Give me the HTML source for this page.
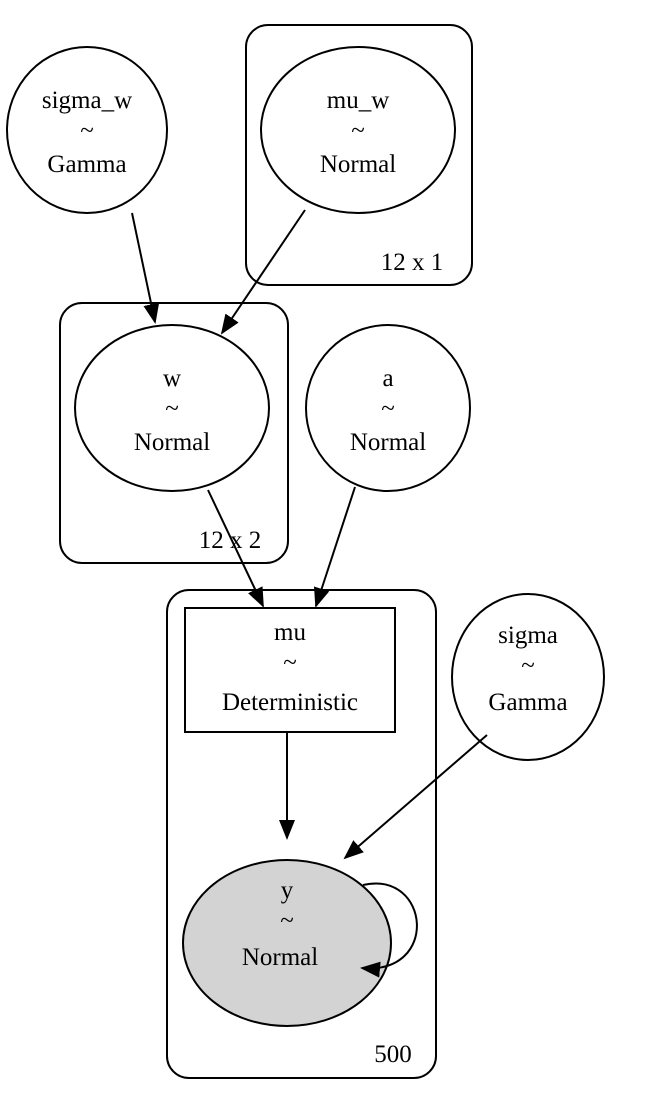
<!DOCTYPE html>
<html><head><style>body{margin:0;background:#fff}svg{display:block}</style></head><body>
<svg width="660" height="1107" viewBox="0 0 660 1107" xmlns="http://www.w3.org/2000/svg" font-family="Liberation Serif, serif" font-size="25" text-anchor="middle">
<defs>
<marker id="b" markerWidth="20" markerHeight="20" refX="18" refY="10" orient="auto" markerUnits="userSpaceOnUse" viewBox="0 0 20 20"><path d="M0,2 L20,10 L0,18z" fill="#000"/></marker></defs>
<g fill="none" stroke="#000" stroke-width="2">
<rect x="246" y="25" width="226" height="260" rx="22"/>
<rect x="60" y="303" width="228" height="260" rx="22"/>
<rect x="167" y="590" width="269" height="488" rx="22"/>
<ellipse cx="87" cy="130" rx="80" ry="83"/>
<ellipse cx="358" cy="130" rx="97" ry="83"/>
<ellipse cx="172" cy="408" rx="97" ry="83"/>
<ellipse cx="388" cy="408" rx="82" ry="83"/>
<ellipse cx="528" cy="677" rx="76" ry="83"/>
<rect x="185" y="608" width="210" height="124"/>
<ellipse cx="287" cy="943" rx="104" ry="83" fill="#d3d3d3"/>
<path d="M132,213 L155,322" marker-end="url(#b)"/>
<path d="M305,210 L222,333" marker-end="url(#b)"/>
<path d="M208,490 L263,606" marker-end="url(#b)"/>
<path d="M355,487 L316,606" marker-end="url(#b)"/>
<path d="M287,732 L287,838" marker-end="url(#b)"/>
<path d="M487,735 L345,858" marker-end="url(#b)"/>
<path d="M363,885 C430,870 440,975 362,968" marker-end="url(#b)"/>
</g>
<g fill="#000">
<text x="87" y="108">sigma_w</text><text x="87" y="138">~</text><text x="87" y="172">Gamma</text>
<text x="358" y="108">mu_w</text><text x="358" y="138">~</text><text x="358" y="172">Normal</text>
<text x="412" y="270">12 x 1</text>
<text x="172" y="386">w</text><text x="172" y="416">~</text><text x="172" y="450">Normal</text>
<text x="230" y="548">12 x 2</text>
<text x="388" y="386">a</text><text x="388" y="416">~</text><text x="388" y="450">Normal</text>
<text x="290" y="640">mu</text><text x="290" y="670">~</text><text x="290" y="710">Deterministic</text>
<text x="528" y="643">sigma</text><text x="528" y="673">~</text><text x="528" y="710">Gamma</text>
<text x="287" y="898">y</text><text x="287" y="928">~</text>
<text x="280" y="965">Normal</text>
<text x="393" y="1062">500</text>
</g>
</svg>
</body></html>
